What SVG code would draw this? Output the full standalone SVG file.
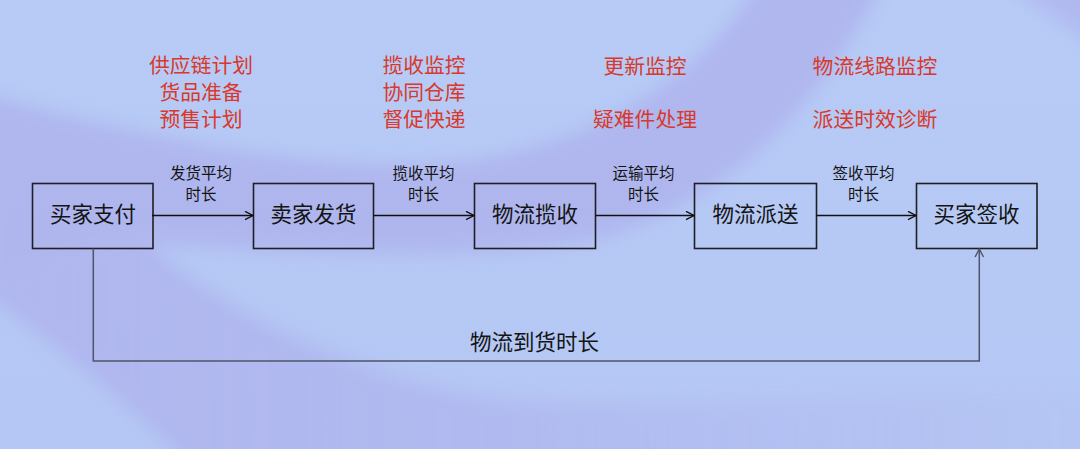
<svg xmlns="http://www.w3.org/2000/svg" width="1080" height="449" viewBox="0 0 1080 449">
  <defs>
    <style>
      .box { fill: none; stroke: #1e1e24; stroke-width: 1.6; }
      .node-text { font-family: "Noto Sans CJK SC", "Noto Sans", sans-serif; font-size: 21.5px; fill: #141414; text-anchor: middle; }
      .label { font-family: "Noto Sans CJK SC", "Noto Sans", sans-serif; font-size: 15.5px; fill: #141414; text-anchor: middle; }
      .red { font-family: "Noto Sans CJK SC", "Noto Sans", sans-serif; font-size: 20.8px; fill: #d8392c; text-anchor: middle; }
      .conn { fill: none; stroke: #111; stroke-width: 1.4; }
      .conn-gray { fill: none; stroke: #4e5568; stroke-width: 1.5; }
    </style>
    <marker id="arrow" viewBox="0 0 10 10" refX="9" refY="5" markerWidth="10" markerHeight="10" markerUnits="userSpaceOnUse" orient="auto">
      <path d="M1,0.8 L9,5 L1,9.2" fill="none" stroke="#111" stroke-width="1.3"/>
    </marker>
    <marker id="arrow-gray" viewBox="0 0 10 10" refX="9" refY="5" markerWidth="10" markerHeight="10" markerUnits="userSpaceOnUse" orient="auto">
      <path d="M1,0.8 L9,5 L1,9.2" fill="none" stroke="#4e5568" stroke-width="1.4"/>
    </marker>
    <linearGradient id="bg" x1="0" y1="0" x2="0" y2="1">
      <stop offset="0" stop-color="#b7cbf6"/>
      <stop offset="1" stop-color="#b5c7f4"/>
    </linearGradient>
    <linearGradient id="fadeR" gradientUnits="userSpaceOnUse" x1="0" y1="0" x2="1080" y2="0">
      <stop offset="0" stop-color="#afb5ee" stop-opacity="1"/>
      <stop offset="0.5" stop-color="#afb5ee" stop-opacity="0.75"/>
      <stop offset="1" stop-color="#afb5ee" stop-opacity="0.1"/>
    </linearGradient>
    <filter id="soft" x="-10%" y="-10%" width="120%" height="120%">
      <feGaussianBlur stdDeviation="9"/>
    </filter>
  </defs>

  <!-- background -->
  <rect x="0" y="0" width="1080" height="449" fill="url(#bg)"/>
  <g filter="url(#soft)" opacity="0.9">
    <path fill="#afb5ee" d="M-20,92 C150,140 330,175 470,160 C600,140 700,80 760,-20 L885,-20 C820,110 720,210 590,242 C480,262 300,255 150,245 C100,250 40,265 -20,291 Z"/>
    <path fill="url(#fadeR)" d="M-20,291 C40,265 100,250 150,245 C250,330 400,390 520,400 C650,410 800,395 1100,392 L1100,470 L195,470 Q90,370 -20,291 Z"/>
    <path fill="#b0b8ef" d="M1000,-20 Q1050,15 1100,50 L1100,-20 Z"/>
  </g>

  <!-- red annotations -->
  <g id="note-1">
    <text class="red" x="201" y="72.9">供应链计划<tspan x="201" dy="27.1">货品准备</tspan><tspan x="201" dy="27.1">预售计划</tspan></text>
  </g>
  <g id="note-2">
    <text class="red" x="424" y="72.9">揽收监控<tspan x="424" dy="27.1">协同仓库</tspan><tspan x="424" dy="27.1">督促快递</tspan></text>
  </g>
  <g id="note-3">
    <text class="red" x="645" y="73.5">更新监控</text>
    <text class="red" x="645" y="126.5">疑难件处理</text>
  </g>
  <g id="note-4">
    <text class="red" x="875" y="73.5">物流线路监控</text>
    <text class="red" x="875" y="126.5">派送时效诊断</text>
  </g>

  <!-- nodes -->
  <g id="node-pay">
    <rect class="box" x="32.5" y="183.5" width="120.5" height="65"/>
    <text class="node-text" x="93" y="222">买家支付</text>
  </g>
  <g id="node-ship">
    <rect class="box" x="253.5" y="183.5" width="120" height="65"/>
    <text class="node-text" x="313.5" y="222">卖家发货</text>
  </g>
  <g id="node-pickup">
    <rect class="box" x="474.5" y="183.5" width="121" height="65"/>
    <text class="node-text" x="535" y="222">物流揽收</text>
  </g>
  <g id="node-deliver">
    <rect class="box" x="694.5" y="183.5" width="122" height="65"/>
    <text class="node-text" x="755.5" y="222">物流派送</text>
  </g>
  <g id="node-sign">
    <rect class="box" x="916.5" y="183.5" width="120.5" height="65"/>
    <text class="node-text" x="976.5" y="222">买家签收</text>
  </g>

  <!-- connectors -->
  <g id="connectors">
    <line class="conn" x1="152" y1="215.5" x2="253" y2="215.5" marker-end="url(#arrow)"/>
    <line class="conn" x1="373.5" y1="215.5" x2="474" y2="215.5" marker-end="url(#arrow)"/>
    <line class="conn" x1="595.5" y1="215.5" x2="694" y2="215.5" marker-end="url(#arrow)"/>
    <line class="conn" x1="816.5" y1="215.5" x2="916" y2="215.5" marker-end="url(#arrow)"/>
    <path class="conn-gray" d="M93.3,248.5 V361 H979.3 V249" marker-end="url(#arrow-gray)"/>
    <text class="label" x="201" y="178.5">发货平均<tspan x="201" dy="21.3">时长</tspan></text>
    <text class="label" x="423.5" y="178.5">揽收平均<tspan x="423.5" dy="21.3">时长</tspan></text>
    <text class="label" x="643.5" y="178.5">运输平均<tspan x="643.5" dy="21.3">时长</tspan></text>
    <text class="label" x="863.5" y="178.5">签收平均<tspan x="863.5" dy="21.3">时长</tspan></text>
    <text class="node-text" x="534.5" y="350">物流到货时长</text>
  </g>
</svg>
